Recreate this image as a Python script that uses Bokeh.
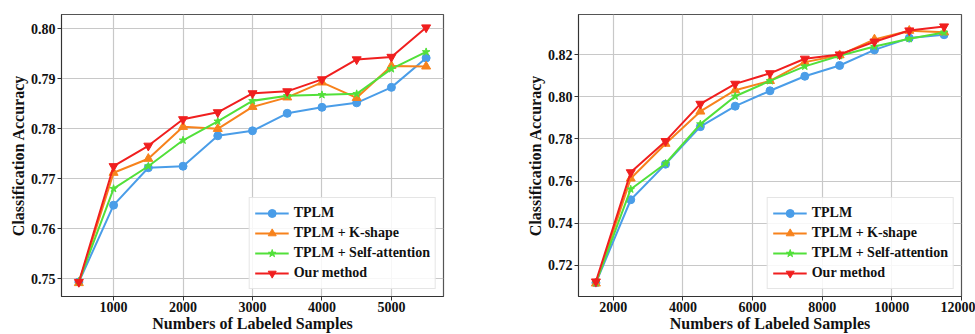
from bokeh.plotting import figure
from bokeh.layouts import row
from bokeh.models import FixedTicker, PrintfTickFormatter, Range1d, Legend, LegendItem
from bokeh.embed import file_html
from bokeh.resources import INLINE

# ---- data: left chart ----
x_left = [500, 1000, 1500, 2000, 2500, 3000, 3500, 4000, 4500, 5000, 5500]
tplm_left = [0.7493, 0.7647, 0.7722, 0.7725, 0.7786, 0.7796, 0.7831, 0.7843, 0.7852, 0.7883, 0.7942]
kshape_left = [0.7491, 0.7712, 0.7740, 0.7804, 0.7800, 0.7844, 0.7863, 0.7893, 0.7862, 0.7926, 0.7925]
selfatt_left = [0.7494, 0.7680, 0.7725, 0.7777, 0.7815, 0.7856, 0.7866, 0.7868, 0.7870, 0.7920, 0.7954]
ours_left = [0.7493, 0.7725, 0.7766, 0.7819, 0.7833, 0.7871, 0.7875, 0.7899, 0.7939, 0.7944, 0.8003]
xticks_left = [1000, 2000, 3000, 4000, 5000]
yticks_left = [0.75, 0.76, 0.77, 0.78, 0.79, 0.80]

# ---- data: right chart ----
x_right = [1500, 2500, 3500, 4500, 5500, 6500, 7500, 8500, 9500, 10500, 11500]
tplm_right = [0.7117, 0.7511, 0.7680, 0.7858, 0.7955, 0.8028, 0.8097, 0.8148, 0.8222, 0.8278, 0.8294]
kshape_right = [0.7114, 0.7612, 0.7777, 0.7930, 0.8031, 0.8075, 0.8164, 0.8197, 0.8272, 0.8313, 0.8306]
selfatt_right = [0.7117, 0.7561, 0.7683, 0.7870, 0.8002, 0.8075, 0.8144, 0.8194, 0.8238, 0.8275, 0.8305]
ours_right = [0.7123, 0.7641, 0.7789, 0.7966, 0.8061, 0.8111, 0.8180, 0.8200, 0.8261, 0.8314, 0.8333]
xticks_right = [2000, 4000, 6000, 8000, 10000, 12000]
yticks_right = [0.72, 0.74, 0.76, 0.78, 0.80, 0.82]

labels = ["TPLM", "TPLM + K-shape", "TPLM + Self-attention", "Our method"]
colors = ["#4a9de8", "#f7821c", "#52e03a", "#f01f1f"]
markers = ["circle", "triangle", "star", "inverted_triangle"]
msizes = [8, 9, 8, 9]

FONT = "Liberation Serif"


def make_fig(xs, series, xticks, yticks, xfmt, yfmt, xr, yr, width, border_left, border_right):
    p = figure(width=width, height=334, output_backend="svg", toolbar_location=None,
               x_range=Range1d(*xr), y_range=Range1d(*yr),
               min_border_left=border_left, min_border_right=border_right,
               min_border_top=14, min_border_bottom=36)
    p.outline_line_color = "#555555"
    p.outline_line_width = 1.2
    items = []
    for ys, lab, col, mk, ms in zip(series, labels, colors, markers, msizes):
        ln = p.line(xs, ys, line_color=col, line_width=2)
        sc = p.scatter(xs, ys, marker=mk, size=ms, fill_color=col, line_color=col)
        items.append(LegendItem(label=lab, renderers=[ln, sc]))
    leg = Legend(items=items, location="bottom_right")
    leg.label_text_font = FONT
    leg.label_text_font_style = "bold"
    leg.label_text_font_size = "14px"
    leg.label_text_color = "#111111"
    leg.glyph_width = 34
    leg.glyph_height = 20
    leg.label_height = 20
    leg.spacing = 0
    leg.padding = 5
    leg.margin = 7
    leg.border_line_color = "#cccccc"
    leg.border_line_width = 1
    leg.background_fill_alpha = 0.85
    p.add_layout(leg)

    p.xaxis.ticker = FixedTicker(ticks=xticks)
    p.yaxis.ticker = FixedTicker(ticks=yticks)
    p.xaxis.formatter = PrintfTickFormatter(format=xfmt)
    p.yaxis.formatter = PrintfTickFormatter(format=yfmt)
    for ax in (p.xaxis, p.yaxis):
        ax.major_label_text_font = FONT
        ax.major_label_text_font_style = "bold"
        ax.major_label_text_font_size = "14px"
        ax.major_label_text_color = "#111111"
        ax.axis_label_text_font = FONT
        ax.axis_label_text_font_style = "bold"
        ax.axis_label_text_font_size = "16px"
        ax.axis_label_text_color = "#111111"
        ax.minor_tick_line_color = None
        ax.major_tick_out = 4
        ax.major_tick_in = 0
        ax.axis_line_color = "#333333"
        ax.major_tick_line_color = "#333333"
    p.xaxis.axis_label = "Numbers of Labeled Samples"
    p.yaxis.axis_label = "Classification Accuracy"
    p.xaxis.axis_label_standoff = 0
    p.yaxis.axis_label_standoff = 1
    p.xaxis.major_label_standoff = 1
    p.yaxis.major_label_standoff = 2
    p.grid.grid_line_color = "#c8c8c8"
    p.grid.grid_line_width = 1.2
    return p


p1 = make_fig(x_left, [tplm_left, kshape_left, selfatt_left, ours_left],
              xticks_left, yticks_left, "%d", "%.2f",
              (250, 5750), (0.7464, 0.8029), 487, 61, 44)
p2 = make_fig(x_right, [tplm_right, kshape_right, selfatt_right, ours_right],
              xticks_right, yticks_right, "%d", "%.2f",
              (1000, 12000), (0.7052, 0.8390), 488, 91, 14)

layout = row(p1, p2)
open("out.html", "w").write(file_html(layout, INLINE))
